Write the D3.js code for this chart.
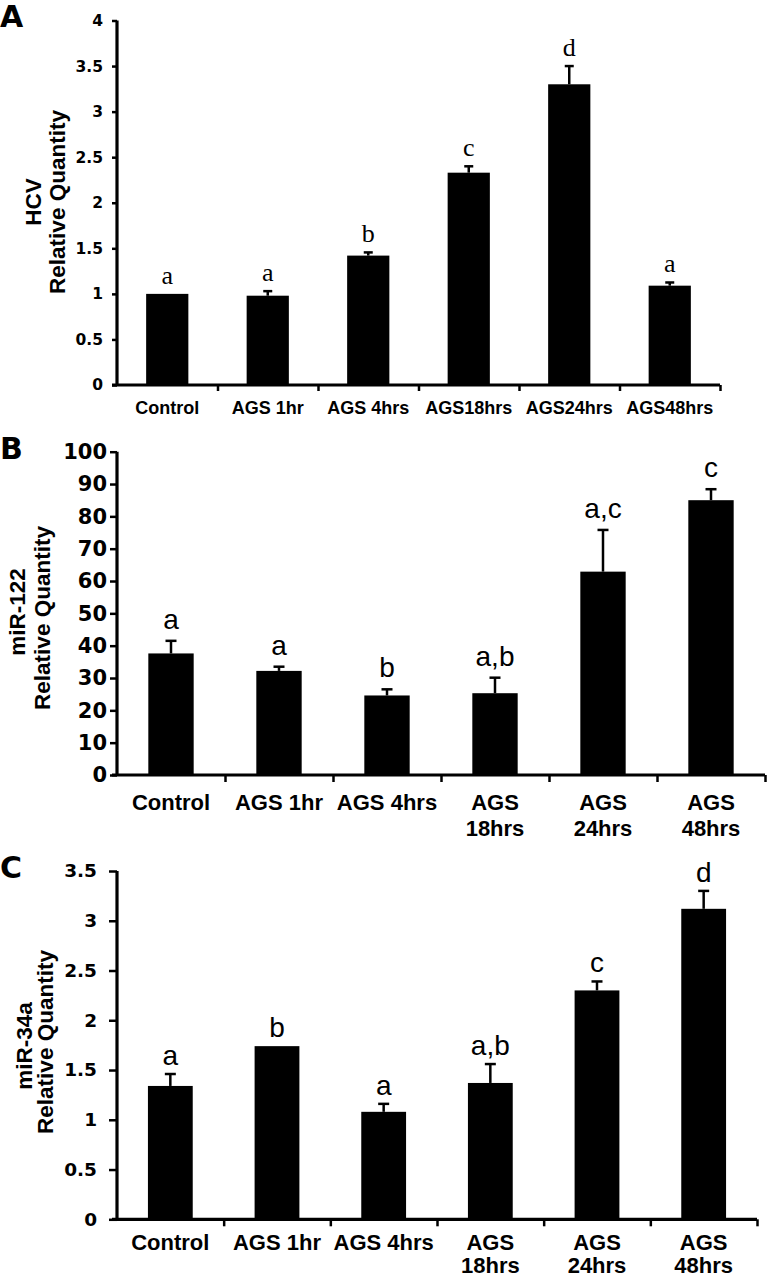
<!DOCTYPE html>
<html><head><meta charset="utf-8">
<script src="https://cdn.jsdelivr.net/npm/d3@7"></script>
<style>body{margin:0;background:#fff}svg{display:block}</style>
</head><body>
<svg id="chart" width="767" height="1280"></svg>
<script>
// ---- data ----
const catsA = ["Control","AGS 1hr","AGS 4hrs","AGS18hrs","AGS24hrs","AGS48hrs"];
const valsA = [1.00, 0.98, 1.42, 2.33, 3.30, 1.09];
const errA  = [0.00, 0.05, 0.035, 0.07, 0.20, 0.035];
const lettersA = ["a","a","b","c","d","a"];
const ticksA = [0,0.5,1,1.5,2,2.5,3,3.5,4];

const catsB = [["Control"],["AGS 1hr"],["AGS 4hrs"],["AGS","18hrs"],["AGS","24hrs"],["AGS","48hrs"]];
const valsB = [37.6, 32.2, 24.6, 25.3, 62.9, 85.0];
const errB  = [3.9, 1.3, 1.9, 4.8, 12.9, 3.4];
const lettersB = ["a","a","b","a,b","a,c","c"];
const ticksB = [0,10,20,30,40,50,60,70,80,90,100];

const catsC = [["Control"],["AGS 1hr"],["AGS 4hrs"],["AGS","18hrs"],["AGS","24hrs"],["AGS","48hrs"]];
const valsC = [1.34, 1.74, 1.08, 1.37, 2.30, 3.12];
const errC  = [0.12, 0.00, 0.08, 0.19, 0.09, 0.18];
const lettersC = ["a","b","a","a,b","c","d"];
const ticksC = [0,0.5,1,1.5,2,2.5,3,3.5];

const svg = d3.select("#chart");
const SANS = "'Liberation Sans', Arial, sans-serif";
const WIDE = "'DejaVu Sans', Verdana, sans-serif";

function panel(o){
  const g = svg.append("g");
  const n = o.cats.length;
  const idx = d3.range(n);
  const x = d3.scaleBand().domain(idx).range([o.x0, o.x1]).padding(0);
  const xb = d3.scaleBand().domain(idx).range([o.x0, o.x1]).paddingInner(0.58).paddingOuter(0.29);
  const y = d3.scaleLinear().domain([0, o.max]).range([o.y0, o.y1]);

  // bars
  g.selectAll("rect.bar").data(idx).join("rect")
    .attr("x", i => xb(i)).attr("width", xb.bandwidth())
    .attr("y", i => y(o.vals[i])).attr("height", i => y(0) - y(o.vals[i]))
    .attr("fill", "#000");
  // error bars
  const cw = o.cap;
  idx.forEach(i => {
    if (o.err[i] <= 0) return;
    const cx = xb(i) + xb.bandwidth()/2;
    g.append("line").attr("x1", cx).attr("x2", cx)
      .attr("y1", y(o.vals[i])).attr("y2", y(o.vals[i] + o.err[i]))
      .attr("stroke", "#000").attr("stroke-width", 2.5);
    g.append("line").attr("x1", cx - cw/2).attr("x2", cx + cw/2)
      .attr("y1", y(o.vals[i] + o.err[i])).attr("y2", y(o.vals[i] + o.err[i]))
      .attr("stroke", "#000").attr("stroke-width", 2.5);
  });
  // letters
  g.selectAll("text.let").data(idx).join("text")
    .attr("x", i => xb(i) + xb.bandwidth()/2)
    .attr("y", i => y(o.vals[i] + o.err[i]) - o.gap)
    .attr("text-anchor", "middle")
    .attr("font-family", o.letFont).attr("font-size", o.letSize)
    .text(i => o.letters[i]);

  // y axis
  const ya = d3.axisLeft(y).tickValues(o.ticks).tickSize(o.ytick).tickPadding(o.ypad)
    .tickFormat(d => String(d));
  const yg = g.append("g").attr("transform", `translate(${o.x0},0)`).call(ya);
  yg.attr("font-size", null).attr("font-family", null);
  yg.select(".domain").attr("stroke-width", 3.2).attr("d", `M0,${o.y0}V${o.y1}`);
  yg.selectAll(".tick line").attr("stroke-width", 2.5);
  yg.selectAll(".tick text").attr("font-family", WIDE).attr("font-weight", "bold")
    .style("font-size", o.ytSize + "px").attr("fill", "#000");

  // x axis (ticks at category boundaries)
  const bounds = d3.range(n + 1);
  const xl = d3.scaleLinear().domain([0, n]).range([o.x0, o.x1]);
  const xa = d3.axisBottom(xl).tickValues(bounds.slice(1)).tickSize(o.xtick).tickFormat("");
  const xg = g.append("g").attr("transform", `translate(0,${o.y0})`).call(xa);
  xg.select(".domain").attr("stroke-width", 3.2).attr("d", `M${o.x0 - 5},0H${o.x1}`);
  xg.selectAll(".tick line").attr("stroke-width", 2.5);

  // category labels
  idx.forEach(i => {
    const lines = Array.isArray(o.cats[i]) ? o.cats[i] : [o.cats[i]];
    const t = g.append("text").attr("text-anchor", "middle")
      .attr("font-family", SANS).attr("font-weight", "bold").attr("font-size", o.xlSize);
    lines.forEach((s, k) => t.append("tspan").attr("x", x(i) + x.bandwidth()/2)
      .attr("y", o.xlY + k * o.xlLH).text(s));
  });

  // y title
  o.titles.forEach(tt => {
    g.append("text").attr("transform", `translate(${tt.x},${tt.y}) rotate(-90)`)
      .attr("text-anchor", "middle").attr("font-family", SANS).attr("font-weight", "bold")
      .attr("font-size", o.titleSize).text(tt.t);
  });
  // panel letter
  g.append("text").attr("x", o.pl[0]).attr("y", o.pl[1]).attr("font-family", WIDE)
    .attr("font-weight", "bold").attr("font-size", 30).text(o.panel);
}

panel({panel:"A", pl:[0,27], cats:catsA, vals:valsA, err:errA, letters:lettersA, ticks:ticksA, max:4,
  x0:117, x1:720, y0:385, y1:20.5, cap:9, gap:10, letFont:"'Liberation Serif', 'Times New Roman', serif", letSize:26,
  ytick:5, ypad:9, ytSize:15.5, xtick:6, xlSize:18, xlY:414, xlLH:25, titleSize:22.5,
  titles:[{t:"HCV", x:41, y:202},{t:"Relative Quantity", x:65, y:202}]});

panel({panel:"B", pl:[0,459], cats:catsB, vals:valsB, err:errB, letters:lettersB, ticks:ticksB, max:100,
  x0:117, x1:765, y0:775, y1:451.7, cap:11, gap:12, letFont:SANS, letSize:28,
  ytick:7, ypad:3, ytSize:21, xtick:7, xlSize:22, xlY:810, xlLH:26, titleSize:22.5,
  titles:[{t:"miR-122", x:25, y:612},{t:"Relative Quantity", x:50, y:618}]});

panel({panel:"C", pl:[0,878], cats:catsC, vals:valsC, err:errC, letters:lettersC, ticks:ticksC, max:3.5,
  x0:117, x1:757, y0:1219.3, y1:871, cap:11, gap:9, letFont:SANS, letSize:28,
  ytick:8, ypad:12, ytSize:18.5, xtick:7, xlSize:22, xlY:1250, xlLH:23, titleSize:22.5,
  titles:[{t:"miR-34a", x:32, y:1046},{t:"Relative Quantity", x:53, y:1042}]});
</script>
</body></html>
